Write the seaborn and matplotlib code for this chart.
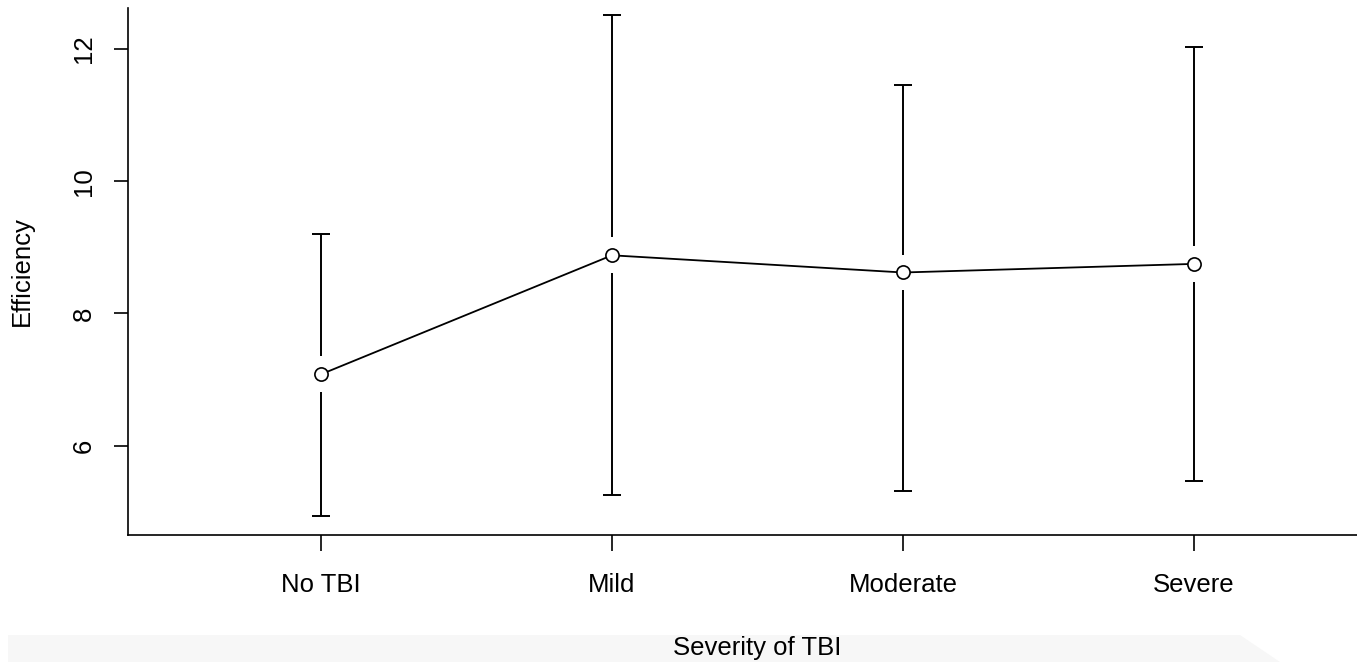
import matplotlib
matplotlib.use("Agg")
import matplotlib.pyplot as plt
from matplotlib.patches import Polygon
import seaborn as sns
import numpy as np

# ---- data ----
categories = ["No TBI", "Mild", "Moderate", "Severe"]
means = [7.08, 8.88, 8.62, 8.75]
upper = [9.20, 12.52, 11.46, 12.03]
lower = [4.94, 5.26, 5.32, 5.47]
y_ticks = [6, 8, 10, 12]

sns.set_style("ticks")
plt.rcParams['font.family'] = ['Liberation Sans', 'DejaVu Sans']
plt.rcParams['text.color'] = 'black'
plt.rcParams['axes.labelcolor'] = 'black'

W, H = 1357, 662
fig = plt.figure(figsize=(W / 100, H / 100), dpi=100)
fig.patch.set_facecolor("white")

# light grey band at bottom (screenshot artifact)
band_ax = fig.add_axes([0, 0, 1, 1], zorder=-5)
band_ax.set_axis_off()
band_ax.set_xlim(0, 1)
band_ax.set_ylim(0, 1)
band_ax.add_patch(Polygon([(8 / W, 0), (8 / W, 27 / H), (1240 / W, 27 / H), (1280 / W, 0)],
                          closed=True, facecolor="#f7f7f7", edgecolor="none"))

left_px, right_px, top_px, bottom_px = 128, 1387, 8, 535
ax = fig.add_axes([left_px / W, (H - bottom_px) / H,
                   (right_px - left_px) / W, (bottom_px - top_px) / H], zorder=2)
ax.set_facecolor("none")

x = np.arange(len(categories))
ax.set_xlim(-0.663, len(categories) - 1 + 0.663)
ax.set_ylim(4.65, 12.62)

# error bars with gap around the points
gap = 0.27
cap = 0.03
for xi, m, lo, hi in zip(x, means, lower, upper):
    ax.vlines(xi, m + gap, hi, color="black", lw=1.4, zorder=2)
    ax.vlines(xi, lo, m - gap, color="black", lw=1.4, zorder=2)
    ax.hlines([lo, hi], xi - cap, xi + cap, color="black", lw=1.4, zorder=2)

sns.lineplot(x=x, y=means, ax=ax, color="black", linewidth=1.3,
             marker="o", markersize=9.5, markerfacecolor="white",
             markeredgecolor="black", markeredgewidth=1.2, zorder=3)

ax.set_xticks(x)
ax.set_xticklabels(categories, fontsize=18.5, color="black")
ax.set_yticks(y_ticks)
ax.set_yticklabels([str(t) for t in y_ticks], fontsize=18.5, rotation=90,
                   va="center", color="black")

ax.tick_params(axis="x", length=11.5, width=1.2, pad=16, colors="black")
ax.tick_params(axis="y", length=10, width=1.2, pad=13, colors="black")

sns.despine(ax=ax)
for s in ["left", "bottom"]:
    ax.spines[s].set_linewidth(1.2)
    ax.spines[s].set_color("black")

ax.set_xlabel("Severity of TBI", fontsize=18.5, color="black")
ax.set_ylabel("Efficiency", fontsize=18.5, color="black")
ax.xaxis.set_label_coords(0.5, -0.192)
ax.yaxis.set_label_coords(-0.075, 0.5)

fig.savefig("out.png", dpi=100)
